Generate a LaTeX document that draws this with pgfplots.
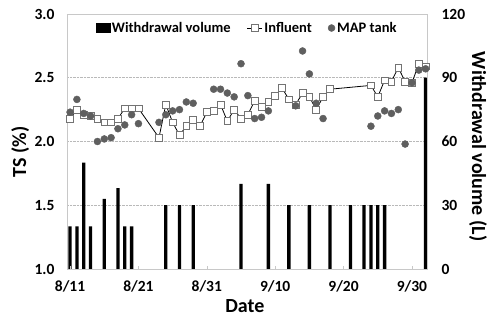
\documentclass[border=0pt]{standalone}
\usepackage{fontspec}
\setmainfont{Carlito}
\usepackage{pgfplots}
\pgfplotsset{compat=1.18}
\definecolor{mapgray}{RGB}{95,95,95}
\definecolor{sqgray}{RGB}{115,115,115}
\definecolor{framegray}{RGB}{200,200,200}
\begin{document}
\begin{tikzpicture}
\useasboundingbox (-67pt,-52pt) rectangle (421pt,269pt);
% ---------- right axis: withdrawal volume bars ----------
\begin{axis}[
  scale only axis, width=360pt, height=255pt,
  xmin=-0.45, xmax=52.2, ymin=0, ymax=120,
  axis line style={draw=none},
  xtick=\empty,
  ytick={0,30,60,90,120},
  yticklabel pos=right,
  ytick style={draw=none},
  ymajorgrids, grid style={densely dotted, gray!55, line width=0.6pt},
  /pgf/number format/assume math mode=true,
  yticklabel style={font=\bfseries\fontsize{15.5}{16}\selectfont, xshift=11pt},
  ylabel={Withdrawal volume (L)},
  every axis y label/.style={at={(axis description cs:1.142,0.48)}, rotate=-90, anchor=center, font=\bfseries\fontsize{20}{22}\selectfont},
]
\addplot[ybar, bar width=3.3pt, fill=black, draw=none] coordinates {
(0,20) (1,20) (2,50) (3,20) (5,33) (7,38) (8,20) (9,20)
(14,30) (16,30) (18,30) (25,40) (29,40) (32,30) (35,30)
(38,30) (41,30) (43,30) (44,30) (45,30) (46,30) (52,90)
};
\end{axis}
% ---------- left axis: TS ----------
\begin{axis}[
  scale only axis, width=360pt, height=255pt,
  xmin=-0.45, xmax=52.2, ymin=1, ymax=3,
  axis line style={draw=framegray, line width=0.6pt},
  xtick={0,10,20,30,40,50},
  xticklabels={8/11,8/21,8/31,9/10,9/20,9/30},
  xtick style={draw=framegray},
  major tick length=3pt, tick align=inside,
  xtick pos=bottom,
  ytick={1,1.5,2,2.5,3},
  ytick style={draw=none},
  ytick pos=left,
  /pgf/number format/assume math mode=true,
  yticklabel style={/pgf/number format/.cd, fixed, fixed zerofill, precision=1, /tikz/.cd, font=\bfseries\fontsize{15.5}{16}\selectfont, xshift=-9pt},
  xticklabel style={font=\bfseries\fontsize{15.5}{16}\selectfont, yshift=-8pt},
  xlabel={Date},
  ylabel={TS (\%)},
  every axis x label/.style={at={(axis description cs:0.494,-0.145)}, anchor=center, font=\bfseries\fontsize{20}{22}\selectfont},
  every axis y label/.style={at={(axis description cs:-0.13,0.46)}, rotate=90, anchor=center, font=\bfseries\fontsize{20}{22}\selectfont},
  legend style={draw=none, fill=none, at={(axis description cs:0.5,0.945)}, anchor=center,
    legend columns=-1, font=\bfseries\fontsize{14.5}{15}\selectfont,
    /tikz/every even column/.append style={column sep=14pt},
    /tikz/every odd column/.append style={column sep=0pt}},
]
\addlegendimage{legend image code/.code={\fill[black] (0pt,-4.5pt) rectangle (14pt,4.5pt);}}
\addlegendentry{Withdrawal volume}
\addplot[black, line width=0.8pt, mark=square*, mark size=3.4pt,
  mark options={fill=white, draw=sqgray, line width=0.7pt},
  legend image code/.code={\draw[black, line width=0.8pt] (0pt,0pt) -- (15pt,0pt);
     \draw[sqgray, fill=white, line width=0.7pt] (4pt,-3.4pt) rectangle (10.8pt,3.4pt);}]
coordinates {
(0,2.18) (1,2.25) (2,2.21) (3,2.20) (4,2.18) (5,2.15) (6,2.15) (7,2.18)
(8,2.26) (9,2.26) (10,2.26) (13,2.03) (14,2.29) (15,2.15) (16,2.05)
(17,2.12) (18,2.17) (19,2.12) (20,2.23) (21,2.24) (22,2.29) (23,2.16)
(24,2.25) (25,2.18) (26,2.21) (27,2.32) (28,2.27) (29,2.31) (30,2.36)
(31,2.42) (32,2.33) (33,2.29) (34,2.38) (35,2.35) (36,2.25) (37,2.35)
(38,2.41) (44,2.44) (45,2.35) (46,2.48) (47,2.47) (48,2.58) (49,2.47)
(50,2.46) (51,2.61) (52,2.59)
};
\addlegendentry{Influent}
\addplot[only marks, mark=*, mark size=3.5pt, mark options={fill=mapgray, draw=mapgray},
  legend image code/.code={\fill[mapgray] (4pt,0pt) circle (3.5pt);}]
coordinates {
(0,2.23) (1,2.33) (2,2.22) (3,2.20) (4,2.00) (5,2.02) (6,2.03) (7,2.10)
(8,2.13) (9,2.21) (10,2.14) (13,2.15) (14,2.21) (15,2.24) (16,2.25)
(17,2.31) (18,2.30) (21,2.41) (22,2.41) (23,2.38) (24,2.35) (25,2.61)
(26,2.36) (27,2.18) (28,2.19) (29,2.24) (33,2.28) (34,2.71) (35,2.53)
(36,2.30) (37,2.18) (44,2.12) (45,2.20) (46,2.24) (47,2.22) (48,2.25)
(49,1.98) (50,2.46) (51,2.56) (52,2.57)
};
\addlegendentry{MAP tank}
\end{axis}
\end{tikzpicture}
\end{document}
